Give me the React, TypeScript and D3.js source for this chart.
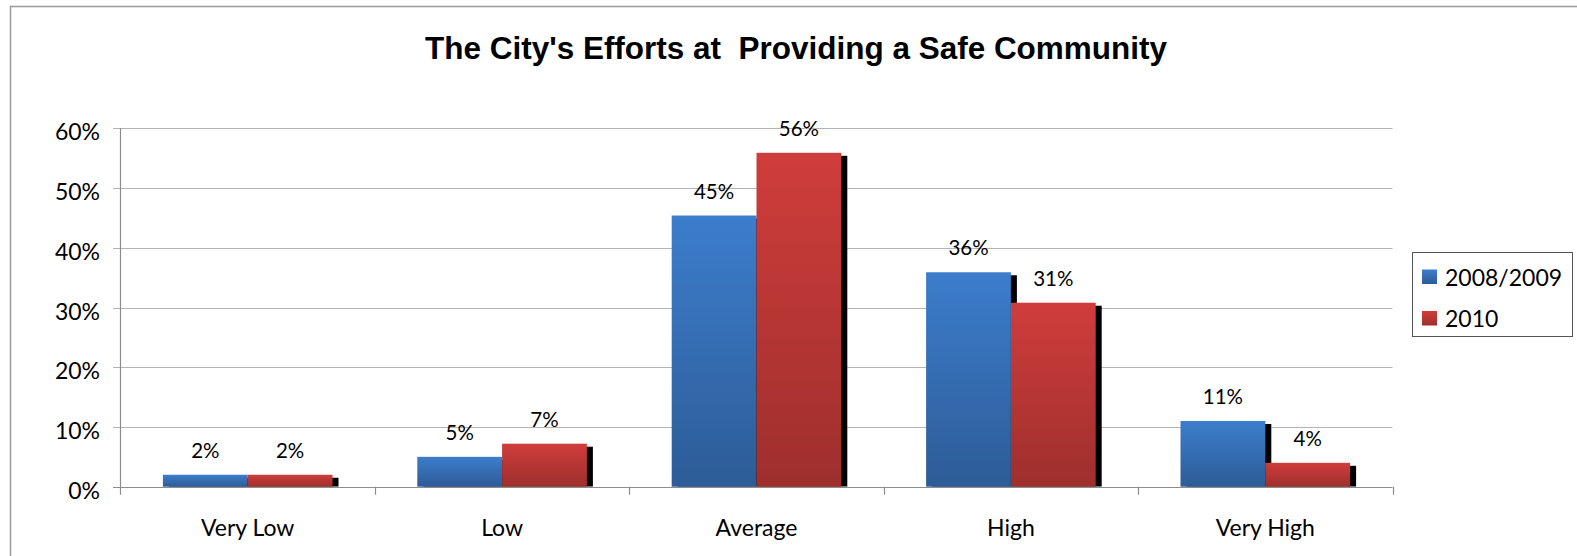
import React from "react";
import * as d3 from "d3";

const categories = ["Very Low", "Low", "Average", "High", "Very High"];
const seriesNames = ["2008/2009", "2010"];
const values2008 = [0.02, 0.05, 0.454, 0.359, 0.11];
const values2010 = [0.02, 0.072, 0.559, 0.308, 0.04];
const yTicks = [0, 0.1, 0.2, 0.3, 0.4, 0.5, 0.6];
const title = "The City's Efforts at  Providing a Safe Community";

const W = 1577;
const H = 556;
const X0 = 120.5;
const X1 = 1392.5;
const Y0 = 486.7;
const Y1 = 128.3;

const gradTop = ["#3C7DCC", "#CF3D3B"];
const gradBottom = ["#2D5C97", "#9E2F2D"];
const FONT = "Lato, 'Open Sans', sans-serif";

export default function App() {
  const x = d3.scaleBand<string>().domain(categories).range([X0, X1]).paddingInner(0).paddingOuter(0);
  const xi = d3.scaleBand<string>().domain(seriesNames).range([0, x.bandwidth()]).paddingInner(0).paddingOuter(0.5);
  const y = d3.scaleLinear().domain([0, 0.6]).range([Y0, Y1]);
  const fmt = d3.format(".0%");
  const series = [values2008, values2010];

  const bars = series.flatMap((vals, si) =>
    categories.map((c, ci) => {
      const bx = (x(c) as number) + (xi(seriesNames[si]) as number);
      const by = y(vals[ci]);
      return { si, ci, bx, by, bw: xi.bandwidth(), v: vals[ci] };
    })
  );

  return (
    <svg width={W} height={H} style={{ position: "absolute", left: 0, top: 0, background: "#fff" }}>
      <defs>
        {seriesNames.map((s, i) => (
          <linearGradient key={s} id={`g${i}`} x1="0" y1="0" x2="0" y2="1">
            <stop offset="0" stopColor={gradTop[i]} />
            <stop offset="1" stopColor={gradBottom[i]} />
          </linearGradient>
        ))}
        <clipPath id="plotclip">
          <rect x={X0} y={0} width={X1 - X0 + 20} height={Y0} />
        </clipPath>
      </defs>
      <rect x={10.5} y={6.5} width={W + 20} height={H + 20} fill="#fff" stroke="#9E9E9E" strokeWidth={1.6} />
      <text x={796} y={59} textAnchor="middle" fontFamily="'Liberation Sans', Arial, sans-serif" fontWeight="bold" fontSize={32} textLength={742} lengthAdjust="spacingAndGlyphs" fill="#000" style={{ whiteSpace: "pre" }}>
        {title}
      </text>
      {/* gridlines */}
      {yTicks.map((t) => (
        <g key={t}>
          <line x1={113} x2={X1} y1={Math.round(y(t)) + 0.5} y2={Math.round(y(t)) + 0.5} stroke={t === 0 ? "#8C8C8C" : "#B4B4B4"} strokeWidth={1.2} />
          <text x={100} y={y(t) + 12} textAnchor="end" fontFamily={FONT} fontSize={23} fill="#000">
            {fmt(t)}
          </text>
        </g>
      ))}
      <line x1={X0} x2={X0} y1={Y1} y2={Y0 + 8} stroke="#8C8C8C" strokeWidth={1.2} />
      {categories.map((c, i) => (
        <g key={c}>
          <line x1={Math.round((x(c) as number) + x.bandwidth()) + 0.5} x2={Math.round((x(c) as number) + x.bandwidth()) + 0.5} y1={Y0} y2={Y0 + 8} stroke="#8C8C8C" strokeWidth={1.2} />
          <text x={(x(c) as number) + x.bandwidth() / 2} y={536} textAnchor="middle" fontFamily={FONT} fontSize={23} fill="#000">
            {c}
          </text>
        </g>
      ))}
      {/* shadows */}
      <g clipPath="url(#plotclip)">
        {bars.map((b) => (
          <rect key={`s${b.si}-${b.ci}`} x={b.bx + 6} y={b.by + 3} width={b.bw} height={Math.max(0, Y0 - b.by - 3)} fill="#000" />
        ))}
      </g>
      {bars.map((b) => (
        <rect key={`b${b.si}-${b.ci}`} x={b.bx} y={b.by} width={b.bw} height={Y0 - b.by} fill={`url(#g${b.si})`} />
      ))}
      {bars.map((b) => (
        <text key={`l${b.si}-${b.ci}`} x={b.bx + b.bw / 2} y={b.by - 17} textAnchor="middle" fontFamily={FONT} fontSize={20.5} fill="#000">
          {fmt(b.v)}
        </text>
      ))}
      {/* legend */}
      <rect x={1412.5} y={252.5} width={160} height={84} fill="#fff" stroke="#555" strokeWidth={1} />
      {seriesNames.map((s, i) => (
        <g key={s}>
          <rect x={1422} y={269.5 + i * 41.5} width={15} height={14.5} fill={`url(#g${i})`} />
          <text x={1445} y={286 + i * 41} fontFamily={FONT} fontSize={23} fill="#000">
            {s}
          </text>
        </g>
      ))}
    </svg>
  );
}
